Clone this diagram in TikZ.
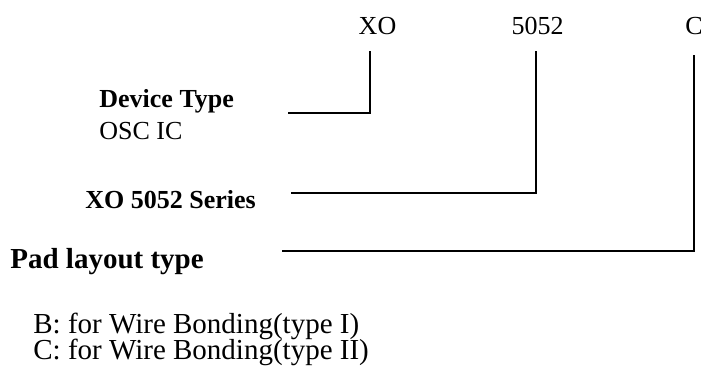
\documentclass[tikz,border=0pt]{standalone}
\usepackage{fontspec}
\setmainfont{Liberation Serif}
\begin{document}
\begin{tikzpicture}[x=0.5pt,y=-0.5pt,
  lbl/.style={inner sep=0pt,font=\fontsize{13}{15.6}\selectfont},
  blbl/.style={inner sep=0pt,font=\fontsize{13}{15.6}\selectfont\bfseries},
  optlbl/.style={inner sep=0pt,anchor=base west,font=\fontsize{14.5}{17}\selectfont},
  conn/.style={line width=1pt,line cap=rect}]
\useasboundingbox (0,0) rectangle (701,374);
% top code parts
\node[lbl,anchor=base] (xo) at (377.5,35) {XO};
\node[lbl,anchor=base] (num) at (537.5,35) {5052};
\node[lbl,anchor=base west] (cc) at (685,35) {C};
% left labels
\node[blbl,anchor=base west] (dev) at (99,108) {Device Type};
\node[lbl,anchor=base west] (osc) at (99,140) {OSC IC};
\node[blbl,anchor=base west] (ser) at (85,208) {XO 5052 Series};
\node[blbl,anchor=base west,font=\fontsize{14.5}{17}\selectfont\bfseries] (pad) at (10,268) {Pad layout type};
\node[optlbl] (optb) at (33,333) {B: for Wire Bonding(type I)};
\node[optlbl] (optc) at (33,359) {C: for Wire Bonding(type II)};
% connector ends
\coordinate (xotop) at (370,52);
\coordinate (xoend) at (289,113);
\coordinate (numtop) at (536,52);
\coordinate (numend) at (292,193);
\coordinate (cctop) at (694,56);
\coordinate (ccend) at (283,251);
\draw[conn] (xotop) |- (xoend);
\draw[conn] (numtop) |- (numend);
\draw[conn] (cctop) |- (ccend);
\end{tikzpicture}
\end{document}
